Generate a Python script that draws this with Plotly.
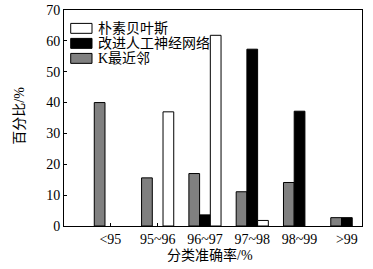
import plotly.graph_objects as go

categories = ["<95", "95~96", "96~97", "97~98", "98~99", ">99"]
knn = [40, 15.6, 17, 11.1, 14.1, 2.7]
ann = [None, None, 3.6, 57.3, 37.2, 2.7]
nb = [None, 37, 61.8, 1.8, None, None]

names = ["K最近邻", "改进人工神经网络", "朴素贝叶斯"]
colors = ["#808080", "#000000", "#ffffff"]

font_fam = "Liberation Serif, Noto Sans CJK SC, serif"
fig = go.Figure()
for vals, name, col in zip([knn, ann, nb], names, colors):
    fig.add_trace(go.Bar(
        x=list(range(len(categories))), y=vals, name=name,
        marker=dict(color=col, line=dict(color="black", width=1)),
        showlegend=False,
    ))

# legend drawn manually (order: 朴素贝叶斯, 改进人工神经网络, K最近邻)
legend_items = [("朴素贝叶斯", "#ffffff"), ("改进人工神经网络", "#000000"), ("K最近邻", "#808080")]
shapes = []
annotations = []
for i, (name, col) in enumerate(legend_items):
    y_top = 0.938 - i * 0.0695
    y_bot = y_top - 0.046
    shapes.append(dict(type="rect", xref="paper", yref="paper",
                       x0=0.0225, x1=0.094, y0=y_bot, y1=y_top,
                       fillcolor=col, line=dict(color="black", width=1)))
    annotations.append(dict(xref="paper", yref="paper", x=0.106, y=(y_top + y_bot) / 2,
                            text=name, showarrow=False, xanchor="left", yanchor="middle",
                            font=dict(size=14, family=font_fam)))

annotations.append(dict(xref="paper", yref="paper", x=0.49, y=-0.135, text="分类准确率/%",
                        showarrow=False, xanchor="center", yanchor="middle",
                        font=dict(size=14, family=font_fam)))
annotations.append(dict(xref="paper", yref="paper", x=-0.148, y=0.51, text="百分比/%",
                        showarrow=False, xanchor="center", yanchor="middle", textangle=-90,
                        font=dict(size=14, family=font_fam)))

fig.update_layout(
    width=373, height=269,
    margin=dict(l=64, r=11, t=10, b=43),
    paper_bgcolor="white", plot_bgcolor="white",
    barmode="group", bargap=0.32, bargroupgap=0,
    font=dict(family=font_fam, size=14, color="black"),
    showlegend=False,
    shapes=shapes, annotations=annotations,
    xaxis=dict(
        tickmode="array", tickvals=list(range(len(categories))), ticktext=categories,
        range=[-0.98, 5.32], showline=True, linecolor="black", linewidth=1,
        mirror=True, ticks="inside", ticklen=3, tickcolor="black",
        showgrid=False, zeroline=False, automargin=False,
    ),
    yaxis=dict(
        range=[0, 70], dtick=10, showline=True, linecolor="black", linewidth=1,
        mirror=True, ticks="inside", ticklen=3, tickcolor="black",
        showgrid=False, zeroline=False, automargin=False,
    ),
)

fig.write_html("out.html", config={"displayModeBar": False},
               post_script="document.body.style.margin='0';document.body.style.overflow='hidden';")
